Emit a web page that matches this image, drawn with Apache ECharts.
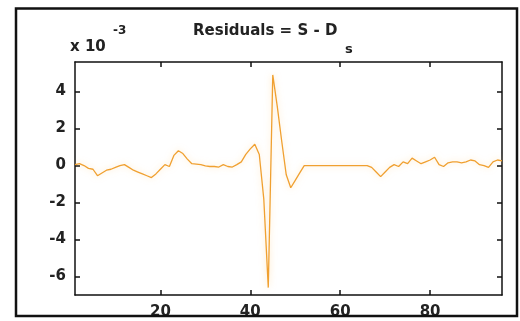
<!DOCTYPE html>
<html>
<head>
<meta charset="utf-8">
<script src="https://cdn.jsdelivr.net/npm/echarts@6/dist/echarts.min.js"></script>
<style>
html,body{margin:0;padding:0;background:#fff;}
#c{width:520px;height:321px;}
</style>
</head>
<body>
<div id="c"></div>
<script>
// sample index (x axis) starts at 1
const xStart = 1;
// residuals in units of 1e-3
const residuals = [
  0.05, 0.10, 0.00, -0.15, -0.20, -0.55, -0.40, -0.25, -0.20, -0.10,
  0.00, 0.05, -0.10, -0.25, -0.35, -0.45, -0.55, -0.65, -0.45, -0.20,
  0.05, -0.05, 0.55, 0.80, 0.65, 0.35, 0.10, 0.08, 0.05, -0.02,
  -0.05, -0.05, -0.08, 0.05, -0.05, -0.08, 0.05, 0.20, 0.60, 0.90,
  1.15, 0.60, -1.80, -6.60, 4.90, 3.20, 1.30, -0.50, -1.20, -0.80,
  -0.40, 0.00, 0.00, 0.00, 0.00, 0.00, 0.00, 0.00, 0.00, 0.00,
  0.00, 0.00, 0.00, 0.00, 0.00, 0.00, -0.10, -0.35, -0.60, -0.35,
  -0.10, 0.05, -0.05, 0.20, 0.10, 0.40, 0.25, 0.10, 0.20, 0.30,
  0.45, 0.05, -0.05, 0.15, 0.20, 0.20, 0.15, 0.20, 0.30, 0.25,
  0.05, 0.00, -0.10, 0.20, 0.30, 0.25
];
const xTicks = [20, 40, 60, 80];
const yTicks = [-6, -4, -2, 0, 2, 4];
const titleMain = 'Residuals = S - D';
const titleSub = 's';
const scaleText = 'x 10';
const scaleExp = '-3';

const data = residuals.map((v, i) => [xStart + i, v]);
const font = 'DejaVu Sans';
const axisLineStyle = { color: '#111', width: 1.5 };

function xAxisDef(pos, showLabel) {
  return {
    type: 'value', position: pos, min: 1, max: 96,
    axisLine: { show: true, onZero: false, lineStyle: axisLineStyle },
    axisTick: { show: true, inside: true, length: 5, customValues: xTicks, lineStyle: { color: '#111', width: 1.5 } },
    axisLabel: { show: showLabel, customValues: xTicks, color: '#222', fontFamily: font, fontWeight: 'bold', fontSize: 15, margin: 10 },
    splitLine: { show: false }
  };
}
function yAxisDef(pos, showLabel) {
  return {
    type: 'value', position: pos, min: -7, max: 5.6,
    axisLine: { show: true, onZero: false, lineStyle: axisLineStyle },
    axisTick: { show: true, inside: true, length: 5, customValues: yTicks, lineStyle: { color: '#111', width: 1.5 } },
    axisLabel: { show: showLabel, customValues: yTicks, color: '#222', fontFamily: font, fontWeight: 'bold', fontSize: 15, margin: 9 },
    splitLine: { show: false }
  };
}

const chart = echarts.init(document.getElementById('c'), null, { renderer: 'canvas' });
chart.setOption({
  backgroundColor: '#fff',
  animation: false,
  grid: { left: 75, right: 18, top: 62, bottom: 26 },
  xAxis: [xAxisDef('bottom', true), xAxisDef('top', false)],
  yAxis: [yAxisDef('left', true), yAxisDef('right', false)],
  series: [{
    type: 'line', data: data, xAxisIndex: 0, yAxisIndex: 0,
    showSymbol: false, symbol: 'none',
    lineStyle: { color: '#f0a030', width: 1.3, shadowColor: 'rgba(255,200,120,0.55)', shadowBlur: 6 },
    z: 1
  }],
  graphic: [
    { type: 'rect', shape: { x: 16, y: 8.5, width: 501, height: 307.5 }, style: { fill: 'none', stroke: '#111', lineWidth: 2.5 }, z: 100 },
    { type: 'text', x: 70, y: 47.5, style: { text: scaleText, fill: '#222', font: 'bold 15px "DejaVu Sans"', verticalAlign: 'middle' } },
    { type: 'text', x: 113, y: 31, style: { text: scaleExp, fill: '#222', font: 'bold 12px "DejaVu Sans"', verticalAlign: 'middle' } },
    { type: 'text', x: 193, y: 31.5, style: { text: titleMain, fill: '#222', font: 'bold 15px "DejaVu Sans"', verticalAlign: 'middle' } },
    { type: 'text', x: 345, y: 50, style: { text: titleSub, fill: '#222', font: 'bold 13px "DejaVu Sans"', verticalAlign: 'middle' } }
  ]
});
</script>
</body>
</html>
